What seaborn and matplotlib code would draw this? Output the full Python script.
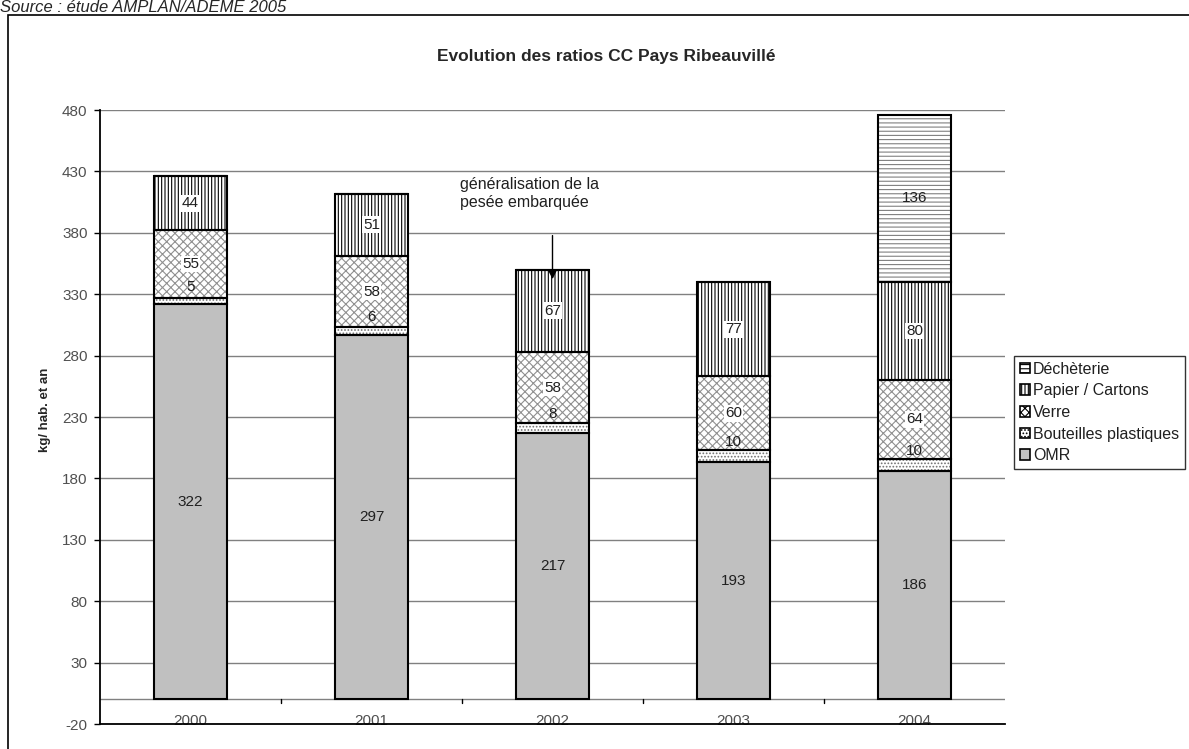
import numpy as np
import pandas as pd
import matplotlib
matplotlib.use("Agg")
import matplotlib.pyplot as plt
import matplotlib.patches as mpatches
import seaborn as sns

years = ["2000", "2001", "2002", "2003", "2004"]
omr = [322, 297, 217, 193, 186]
plastiques = [5, 6, 8, 10, 10]
verre = [55, 58, 58, 60, 64]
papier = [44, 51, 67, 77, 80]
decheterie = [0, 0, 0, 0, 136]
series_names = ["OMR", "Bouteilles plastiques", "Verre", "Papier / Cartons", "Déchèterie"]
yticks = list(range(-20, 481, 50))
title = "Evolution des ratios CC Pays Ribeauvillé"
ylabel = "kg/ hab. et an"
annotation = "généralisation de la\npesée embarquée"
source = "Source : étude AMPLAN/ADEME 2005"

sns.set_style("white")
plt.rcParams["font.family"] = ["Liberation Sans", "DejaVu Sans"]
plt.rcParams["hatch.linewidth"] = 0.8

fig = plt.figure(figsize=(11.89, 7.49), dpi=100)
ax = fig.add_axes([100/1189, 25/749, 905/1189, 614/749])

df = pd.DataFrame({"year": years, "OMR": omr, "Bouteilles plastiques": plastiques,
                   "Verre": verre, "Papier / Cartons": papier, "Déchèterie": decheterie})

styles = {
    "OMR": dict(color="#c0c0c0", hatch=None, hatch_color="black"),
    "Bouteilles plastiques": dict(color="white", hatch=".....", hatch_color="#707070"),
    "Verre": dict(color="white", hatch="xxxx", hatch_color="#909090"),
    "Papier / Cartons": dict(color="white", hatch="|||||", hatch_color="black"),
    "Déchèterie": dict(color="white", hatch="----", hatch_color="#808080"),
}

W = 0.40
bottom = np.zeros(len(years))
for name in series_names:
    vals = np.array(df[name], dtype=float)
    st = styles[name]
    sns.barplot(data=df, x="year", y=name, bottom=bottom, width=W, ax=ax,
                color=st["color"], saturation=1, hatch=st["hatch"],
                edgecolor=st["hatch_color"], linewidth=0, errorbar=None, zorder=2)
    sns.barplot(data=df, x="year", y=name, bottom=bottom, width=W, ax=ax,
                fill=False, color="black", edgecolor="black", linewidth=1.5,
                errorbar=None, zorder=3)
    bottom = bottom + vals

FS = 11
bottom = np.zeros(len(years))
for name in series_names:
    vals = np.array(df[name], dtype=float)
    for i, v in enumerate(vals):
        if v <= 0:
            continue
        yc = bottom[i] + v / 2
        if name == "Bouteilles plastiques":
            ax.annotate(f"{int(v)}", (i, yc), xytext=(0, 10), textcoords="offset points",
                        ha="center", va="center", fontsize=FS, color="#202020", zorder=5)
        elif name in ("Verre", "Papier / Cartons"):
            ax.text(i, yc, f"{int(v)}", ha="center", va="center", fontsize=FS,
                    color="#202020", zorder=5,
                    bbox=dict(facecolor="white", edgecolor="none", pad=1))
        else:
            ax.text(i, yc, f"{int(v)}", ha="center", va="center", fontsize=FS,
                    color="#202020", zorder=5)
    bottom = bottom + vals

ax.set_ylim(-20, 480)
ax.set_xlim(-0.5, 4.5)
ax.set_yticks(yticks)
ax.set_yticklabels([str(t) for t in yticks], fontsize=FS, color="#505050")
ax.yaxis.grid(True, color="#808080", linewidth=1, zorder=0)
ax.set_axisbelow(True)
ax.set_xlabel("")
ax.set_ylabel("")
ax.tick_params(axis="y", direction="out", length=4, width=1, color="black", left=True, pad=5)
ax.tick_params(axis="x", length=0, pad=-7, labelsize=FS, labelcolor="#505050")
for s in ["top", "right"]:
    ax.spines[s].set_visible(False)
for s in ["left", "bottom"]:
    ax.spines[s].set_color("black")
    ax.spines[s].set_linewidth(1.3)

ax.axhline(0, color="#808080", linewidth=1, zorder=1)
for b in np.arange(0.5, len(years) - 0.5, 1):
    ax.plot([b, b], [0, -3], color="black", linewidth=1, zorder=1)

ax.annotate("", xy=(2, 340), xytext=(2, 380),
            arrowprops=dict(arrowstyle="-|>", color="black", lw=1, mutation_scale=12), zorder=6)
ax.text(1.49, 412, annotation, ha="left", va="center", fontsize=11.5, color="#202020",
        linespacing=1.25)

fig.text(606/1189, 1 - 56/749, title, ha="center", va="center", fontsize=12.5,
         fontweight="bold")
fig.text(45/1189, 1 - 410/749, ylabel, rotation=90, ha="center", va="center",
         fontsize=9.5, fontweight="bold")
fig.text(0.0, 1.0, source, ha="left", va="top", fontsize=12, style="italic")

fig.patches.append(mpatches.Rectangle((8/1189, -0.02), 1.0, 1 - 15/749 + 0.02,
                                      transform=fig.transFigure, fill=False,
                                      edgecolor="black", linewidth=1.2))

handles = []
for name in reversed(series_names):
    st = styles[name]
    handles.append(mpatches.Patch(facecolor=st["color"], hatch=st["hatch"],
                                  edgecolor="black", linewidth=1.2, label=name))
leg = fig.legend(handles=handles, loc="upper left", bbox_to_anchor=(1014/1189, 1 - 356/749),
                 fontsize=11.5, frameon=True, fancybox=False, handlelength=0.65,
                 handleheight=0.65, handletextpad=0.2, labelspacing=0.42,
                 borderpad=0.35, borderaxespad=0)
leg.get_frame().set_edgecolor("black")
leg.get_frame().set_linewidth(1)
for t in leg.get_texts():
    t.set_color("#202020")

fig.savefig("out.png", dpi=100)
